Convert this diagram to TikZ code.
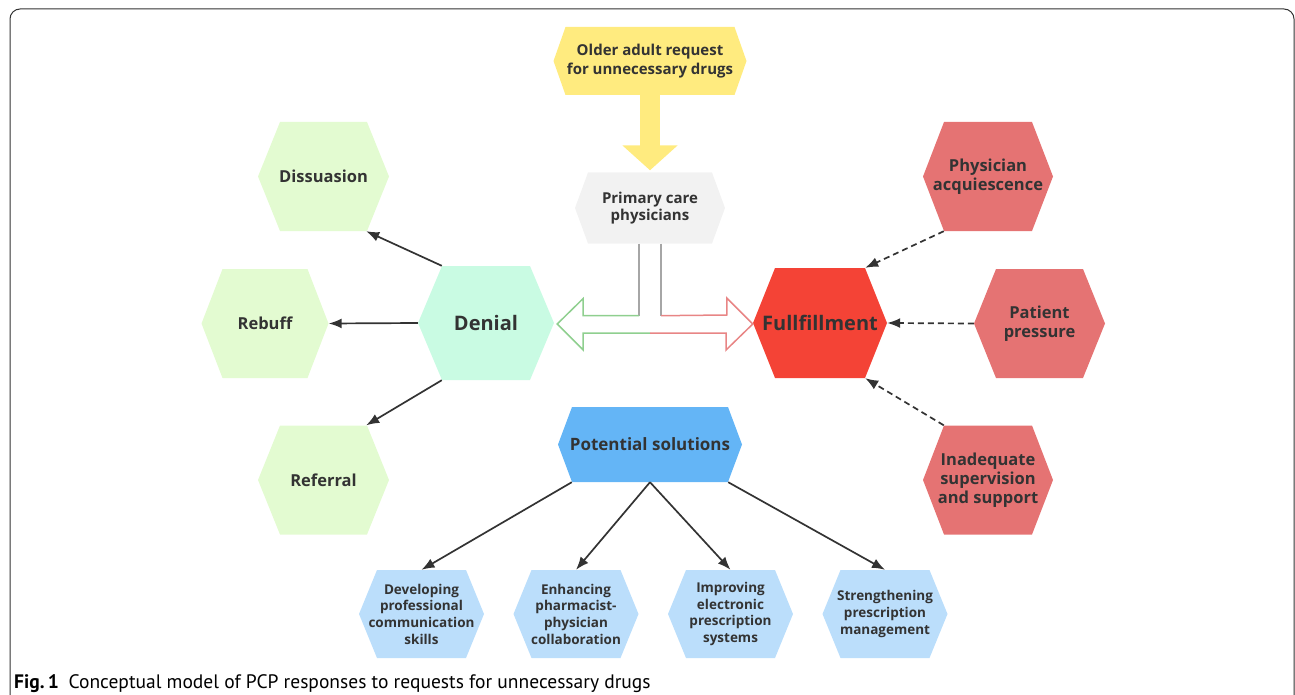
\documentclass[tikz,border=0pt]{standalone}
\usepackage{fontspec}
\setmainfont{Open Sans}
\newfontfamily\capfont{PT Sans}
\usetikzlibrary{arrows.meta,calc}
\definecolor{ink}{HTML}{333333}
\definecolor{yel}{HTML}{FFEB7F}
\definecolor{pcpgrey}{HTML}{F2F2F2}
\definecolor{mint}{HTML}{C9FBE3}
\definecolor{lgreen}{HTML}{E3FBD1}
\definecolor{fred}{HTML}{F44336}
\definecolor{pred}{HTML}{E57373}
\definecolor{sblue}{HTML}{64B5F6}
\definecolor{lblue}{HTML}{BBDEFB}
\definecolor{grnln}{HTML}{8FCF8F}
\definecolor{redln}{HTML}{E88585}
\definecolor{greyln}{HTML}{A6A6A6}
\tikzset{
  hexin/.store in=\hexin, hexin=20pt,
  hexcol/.store in=\hexcol, hexcol=white,
  hexnode/.style={rectangle, inner sep=0pt, align=center, text=ink,
    path picture={\fill[\hexcol] (path picture bounding box.west)
      -- ([xshift=\hexin]path picture bounding box.north west)
      -- ([xshift=-\hexin]path picture bounding box.north east)
      -- (path picture bounding box.east)
      -- ([xshift=-\hexin]path picture bounding box.south east)
      -- ([xshift=\hexin]path picture bounding box.south west) -- cycle;}},
  sidebox/.style={hexnode, minimum width=131pt, minimum height=109pt, hexin=22pt,
    font=\fontsize{16.5}{19}\selectfont\bfseries},
  solbox/.style={hexnode, hexcol=lblue, minimum width=125pt, minimum height=88pt, hexin=18pt,
    font=\fontsize{13.5}{16.7}\selectfont\bfseries},
  solid arrow/.style={ink, line width=1.7pt, -{Latex[length=13pt,width=10pt]}},
  dash arrow/.style={ink, line width=1.7pt, dash pattern=on 6pt off 4pt, -{Latex[length=13pt,width=10pt]}},
}
\begin{document}
\begin{tikzpicture}[x=1pt,y=-1pt]
\useasboundingbox (0,0) rectangle (1295,695);
\draw[ink, line width=1pt, rounded corners=10pt] (10,720) -- (10,9) -- (1294,9) -- (1294,720);
\begin{scope}
\node[hexnode, hexcol=yel, minimum width=193pt, minimum height=68pt, hexin=12pt,
  font=\fontsize{15}{19}\selectfont\bfseries] (req) at (650,61) {Older adult request\\for unnecessary drugs};
\node[hexnode, hexcol=pcpgrey, minimum width=150pt, minimum height=71pt, hexin=13pt,
  font=\fontsize{15}{17.5}\selectfont\bfseries] (pcp) at (650,208) {Primary care\\physicians};
\node[hexnode, hexcol=mint, minimum width=136pt, minimum height=114pt, hexin=24pt,
  font=\fontsize{20}{24}\selectfont\bfseries] (den) at (486,323) {Denial};
\node[hexnode, hexcol=fred, minimum width=134pt, minimum height=110pt, hexin=22pt,
  font=\fontsize{20}{24}\selectfont\bfseries] (ful) at (820,323) {Fullfillment};
\node[hexnode, hexcol=sblue, minimum width=184pt, minimum height=75pt, hexin=14pt,
  font=\fontsize{17}{20}\selectfont\bfseries] (sol) at (650,444.5) {Potential solutions};
\end{scope}
\begin{scope}
\node[sidebox, hexcol=lgreen] (dis) at (323.5,176.5) {Dissuasion};
\node[sidebox, hexcol=lgreen, minimum width=127pt, hexin=21pt] (reb) at (265,323.5) {Rebuff};
\node[sidebox, hexcol=lgreen] (ref) at (323.5,480) {Referral};
\node[sidebox, hexcol=pred, minimum width=130pt, hexin=21pt] (acq) at (988,176.5) {Physician\\acquiescence};
\node[sidebox, hexcol=pred] (prs) at (1039.5,323.5) {Patient\\pressure};
\node[sidebox, hexcol=pred, minimum width=130pt, hexin=21pt] (ina) at (988,480) {Inadequate\\supervision\\and support};
\end{scope}
\begin{scope}
\node[solbox] (dev) at (421.5,614) {Developing\\professional\\communication\\skills};
\node[solbox] (enh) at (576,614) {Enhancing\\pharmacist-\\physician\\collaboration};
\node[solbox] (imp) at (730.5,614) {Improving\\electronic\\prescription\\systems};
\node[solbox] (str) at (885,614) {Strengthening\\prescription\\management};
\end{scope}
\draw[yel, line width=20pt, -{Triangle[length=25pt,width=54pt]}, shorten >=2pt] (req.south) -- (pcp.north);
\draw[greyln, line width=1.5pt] ([xshift=-11pt]pcp.south) -- ++(0,72) coordinate (gl);
\draw[greyln, line width=1.5pt] ([xshift=11pt]pcp.south) -- ++(0,72) coordinate (gr);
\draw[grnln, line width=1.5pt, line join=miter] (gl) -- ++(-56,0) -- ++(0,-17) -- ([xshift=3pt]den.east |- 0,324)
  -- ++(26,26) -- ++(0,-17) -- (650,333);
\draw[redln, line width=1.5pt, line join=miter] (650,333) -- ++(76,0) -- ++(0,17) -- (ful.west |- 0,324)
  -- ++(-26,-26) -- ++(0,17) -- (gr);
\draw[solid arrow] ([xshift=24pt]den.north west) -- ([xshift=-23pt]dis.south east);
\draw[solid arrow] (den.west) -- (reb.east);
\draw[solid arrow] ([xshift=24pt]den.south west) -- ([xshift=-23pt]ref.north east);
\draw[dash arrow] ([xshift=21pt]acq.south west) -- ([xshift=-22pt]ful.north east);
\draw[dash arrow] (prs.west) -- (ful.east);
\draw[dash arrow] ([xshift=21pt]ina.north west) -- ([xshift=-22pt]ful.south east);
\draw[solid arrow] ([xshift=14pt]sol.south west) -- (dev.north);
\draw[solid arrow] (sol.south) -- (enh.north);
\draw[solid arrow] (sol.south) -- (imp.north);
\draw[solid arrow] ([xshift=-14pt]sol.south east) -- (str.north);
\node[anchor=base west, inner sep=0pt, text=black, font=\capfont\fontsize{19.5}{21}\selectfont] (cap) at (14,688)
  {\textbf{Fig.\,1}\enspace Conceptual model of PCP responses to requests for unnecessary drugs};
\end{tikzpicture}
\end{document}
